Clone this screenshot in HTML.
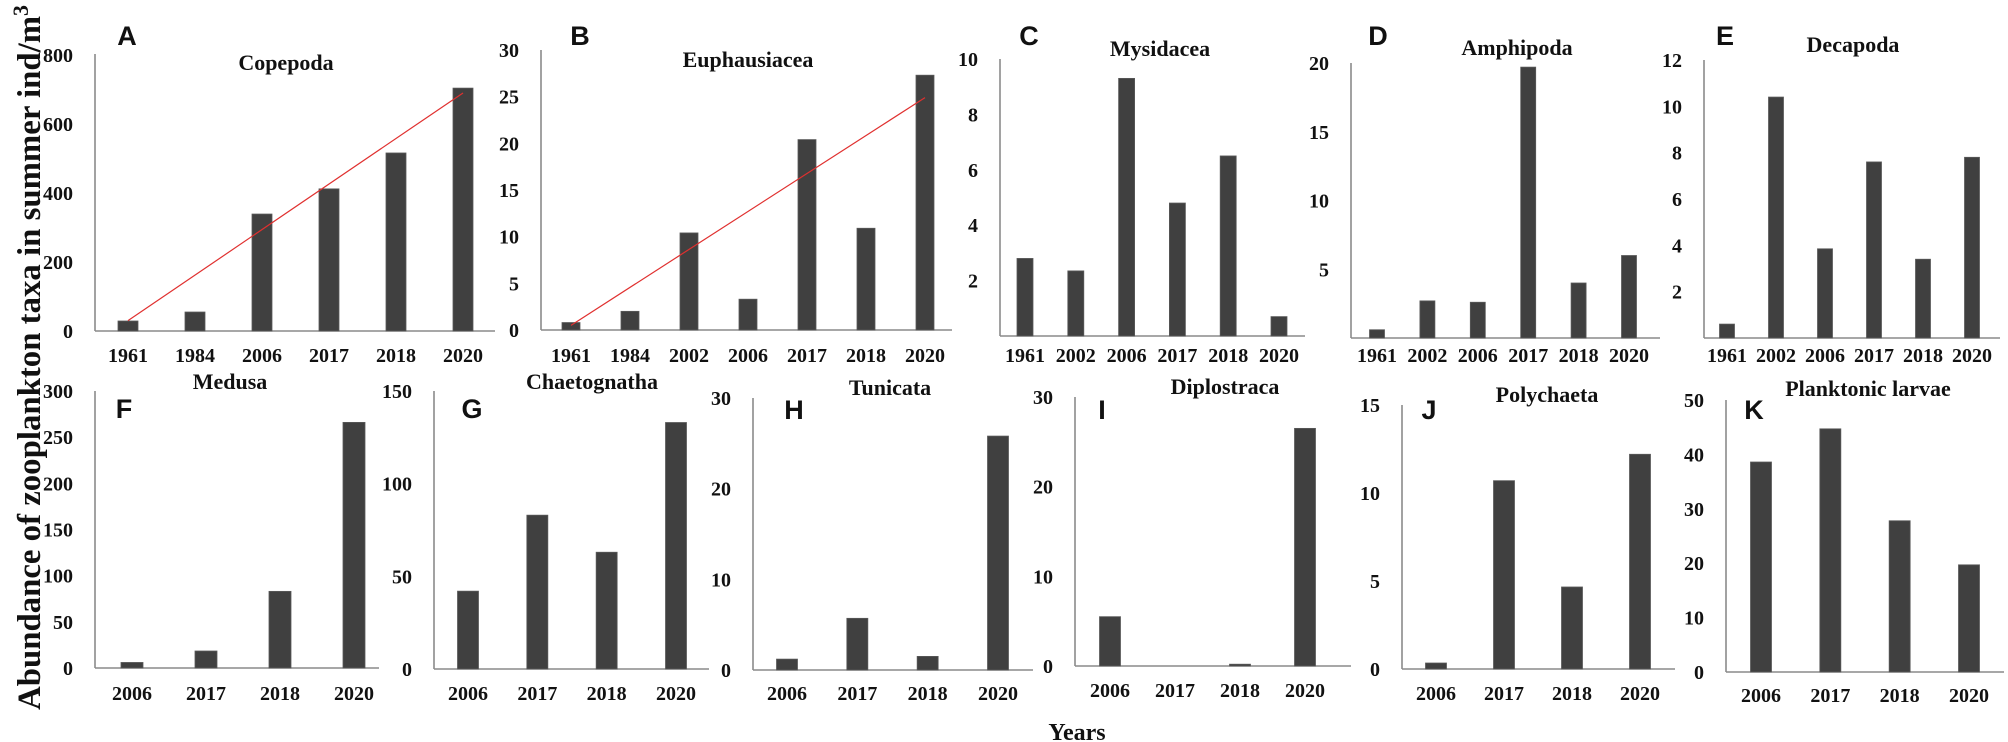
<!DOCTYPE html>
<html><head><meta charset="utf-8"><style>
html,body{margin:0;padding:0;background:#fff;}
svg{display:block;}
text{font-family:"Liberation Serif",serif;font-weight:bold;fill:#111;}
.let{font-family:"Liberation Sans",sans-serif;font-size:27px;}
</style></head><body>
<svg id="fig" width="2008" height="742" viewBox="0 0 2008 742">
<text transform="translate(40,710) rotate(-90)" font-size="33" textLength="705" lengthAdjust="spacingAndGlyphs">Abundance of zooplankton taxa in summer ind/m<tspan font-size="22" dy="-12">3</tspan></text>
<text x="1077" y="740" font-size="24" text-anchor="middle">Years</text>
</svg>
<script>
// ---- data ----
const catsA=["1961","1984","2006","2017","2018","2020"];
const valsA=[29,55,339,412,516,704];
const trendA=[30,690];
const ticksA=[0,200,400,600,800];
const catsB=["1961","1984","2002","2006","2017","2018","2020"];
const valsB=[0.8,2,10.4,3.3,20.4,10.9,27.3];
const trendB=[0.5,24.9];
const ticksB=[0,5,10,15,20,25,30];
const catsC=["1961","2002","2006","2017","2018","2020"];
const valsC=[2.8,2.35,9.3,4.8,6.5,0.7];
const ticksC=[2,4,6,8,10];
const catsD=["1961","2002","2006","2017","2018","2020"];
const valsD=[0.6,2.7,2.6,19.7,4.0,6.0];
const ticksD=[5,10,15,20];
const catsE=["1961","2002","2006","2017","2018","2020"];
const valsE=[0.6,10.4,3.85,7.6,3.4,7.8];
const ticksE=[2,4,6,8,10,12];
const catsF=["2006","2017","2018","2020"];
const valsF=[6,18.4,83,266];
const ticksF=[0,50,100,150,200,250,300];
const catsG=["2006","2017","2018","2020"];
const valsG=[42,83,63,133];
const ticksG=[0,50,100,150];
const catsH=["2006","2017","2018","2020"];
const valsH=[1.2,5.7,1.5,25.8];
const ticksH=[0,10,20,30];
const catsI=["2006","2017","2018","2020"];
const valsI=[5.5,0,0.2,26.5];
const ticksI=[0,10,20,30];
const catsJ=["2006","2017","2018","2020"];
const valsJ=[0.34,10.7,4.66,12.2];
const ticksJ=[0,5,10,15];
const catsK=["2006","2017","2018","2020"];
const valsK=[38.6,44.7,27.8,19.7];
const ticksK=[0,10,20,30,40,50];

// ---- layout (pixel geometry only) ----
const panels=[
 {id:"a",L:"A",t:"Copepoda",cats:catsA,vals:valsA,ticks:ticksA,max:800,trend:trendA,ax:95,top:54,y0:331,ymaxPx:55,x1:128,x2:463,bw:20,xEnd:495,lx:127,ly:45,tx:286,ty:70,yl:362},
 {id:"b",L:"B",t:"Euphausiacea",cats:catsB,vals:valsB,ticks:ticksB,max:30,trend:trendB,ax:541,top:50,y0:330,ymaxPx:50,x1:571,x2:925,bw:18,xEnd:952,lx:580,ly:45,tx:748,ty:67,yl:362},
 {id:"c",L:"C",t:"Mysidacea",cats:catsC,vals:valsC,ticks:ticksC,max:10,ax:1000,top:59,y0:336,ymaxPx:59,x1:1025,x2:1279,bw:16,xEnd:1305,lx:1029,ly:45,tx:1160,ty:56,yl:362},
 {id:"d",L:"D",t:"Amphipoda",cats:catsD,vals:valsD,ticks:ticksD,max:20,ax:1351,top:63,y0:338,ymaxPx:63,x1:1377,x2:1629,bw:15,xEnd:1660,lx:1378,ly:45,tx:1517,ty:55,yl:362},
 {id:"e",L:"E",t:"Decapoda",cats:catsE,vals:valsE,ticks:ticksE,max:12,ax:1704,top:60,y0:338,ymaxPx:60,x1:1727,x2:1972,bw:15,xEnd:2000,lx:1725,ly:45,tx:1853,ty:52,yl:362},
 {id:"f",L:"F",t:"Medusa",cats:catsF,vals:valsF,ticks:ticksF,max:300,ax:95,top:391,y0:668,ymaxPx:391,x1:132,x2:354,bw:22,xEnd:379,lx:124,ly:418,tx:230,ty:389,yl:700},
 {id:"g",L:"G",t:"Chaetognatha",cats:catsG,vals:valsG,ticks:ticksG,max:150,ax:434,top:391,y0:669,ymaxPx:391,x1:468,x2:676,bw:21,xEnd:709,lx:472,ly:418,tx:592,ty:389,yl:700},
 {id:"h",L:"H",t:"Tunicata",cats:catsH,vals:valsH,ticks:ticksH,max:30,ax:753,top:398,y0:670,ymaxPx:398,x1:787,x2:998,bw:21,xEnd:1033,lx:794,ly:419,tx:890,ty:395,yl:700},
 {id:"i",L:"I",t:"Diplostraca",cats:catsI,vals:valsI,ticks:ticksI,max:30,ax:1075,top:397,y0:666,ymaxPx:397,x1:1110,x2:1305,bw:21,xEnd:1351,lx:1102,ly:419,tx:1225,ty:394,yl:697},
 {id:"j",L:"J",t:"Polychaeta",cats:catsJ,vals:valsJ,ticks:ticksJ,max:15,ax:1402,top:405,y0:669,ymaxPx:405,x1:1436,x2:1640,bw:21,xEnd:1675,lx:1429,ly:419,tx:1547,ty:402,yl:700},
 {id:"k",L:"K",t:"Planktonic larvae",cats:catsK,vals:valsK,ticks:ticksK,max:50,ax:1726,top:400,y0:672,ymaxPx:400,x1:1761,x2:1969,bw:21,xEnd:2004,lx:1754,ly:419,tx:1868,ty:396,yl:702}
];
const NS="http://www.w3.org/2000/svg";
const svg=document.getElementById("fig");
function mk(tag,attrs,parent){const e=document.createElementNS(NS,tag);for(const k in attrs)e.setAttribute(k,attrs[k]);(parent||svg).appendChild(e);return e;}
panels.forEach(p=>{
  const g=mk("g",{});
  
  
  const yS=v=>p.y0-(v/p.max)*(p.y0-p.ymaxPx);
  const n=p.cats.length;
  const xS=i=>n>1?p.x1+i*(p.x2-p.x1)/(n-1):p.x1;
  // axes
  const ya=mk("line",{x1:p.ax,y1:p.top,x2:p.ax,y2:p.y0,stroke:"#8a8a8a","stroke-width":1.6},g);
  
  
  const xa=mk("line",{x1:p.ax,y1:p.y0,x2:p.xEnd,y2:p.y0,stroke:"#8a8a8a","stroke-width":1.6},g);
  
  
  p.ticks.forEach(t=>{
    const tl=mk("text",{x:p.ax-22,y:yS(t)+7,"font-size":20,"text-anchor":"end"},g);
    tl.textContent=t;
    
    
  });
  p.vals.forEach((v,i)=>{
    const y=yS(v);
    const r=mk("rect",{x:xS(i)-p.bw/2,y:y,width:p.bw,height:Math.max(0,p.y0-y),fill:"#404040",stroke:"#5a5a5a","stroke-width":0.8},g);
    
    
    const xl=mk("text",{x:xS(i),y:p.yl,"font-size":20,"text-anchor":"middle"},g);
    xl.textContent=p.cats[i];
    
    
  });
  if(p.trend){
    const tr=mk("line",{x1:xS(0),y1:yS(p.trend[0]),x2:xS(n-1),y2:yS(p.trend[1]),stroke:"#e0302f","stroke-width":1.2},g);
    
    
  }
  const tt=mk("text",{x:p.tx,y:p.ty,"font-size":22,"text-anchor":"middle"},g);
  tt.textContent=p.t;
  
  
  const lt=mk("text",{x:p.lx,y:p.ly,"text-anchor":"middle",class:"let"},g);
  lt.textContent=p.L;
  
  
});
</script>
</body></html>
